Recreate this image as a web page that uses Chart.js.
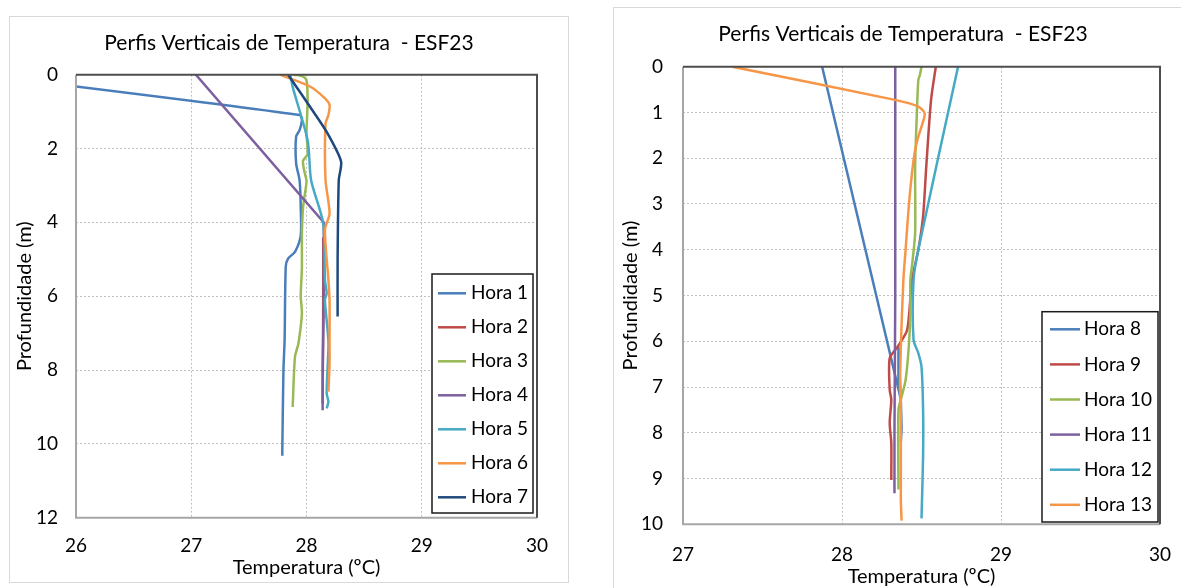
<!DOCTYPE html>
<html lang="pt">
<head>
<meta charset="UTF-8">
<title>Perfis Verticais de Temperatura - ESF23</title>
<script src="https://cdn.jsdelivr.net/npm/chart.js@4/dist/chart.umd.min.js"></script>
<style>
  body { margin: 0; background: #fff; width: 1181px; height: 588px; overflow: hidden; position: relative; }
  .frame { position: absolute; border: 1px solid #d9d9d9; box-sizing: border-box; }
  canvas { position: absolute; }
</style>
</head>
<body>
<div class="frame" style="left:9px; top:16px; width:560px; height:567px;"></div>
<canvas id="chartA" width="560" height="566" style="left:9px; top:16px;"></canvas>
<div class="frame" style="left:613px; top:7px; width:580px; height:600px;"></div>
<canvas id="chartB" width="580" height="590" style="left:613px; top:7px;"></canvas>
<script>
// --- dados: temperatura (ºC) e profundidade (m) por hora ---
const titulo = 'Perfis Verticais de Temperatura  - ESF23';
const eixoX = 'Temperatura (ºC)';
const eixoY = 'Profundidade (m)';

const hora1T = [25.18, 27.94, 27.96, 27.94, 27.91, 27.91, 27.94, 27.95, 27.95, 27.90, 27.84, 27.82, 27.81, 27.80, 27.79, 27.79];
const hora1D = [0, 1.09, 1.23, 1.5, 1.68, 2.4, 2.86, 3.58, 4.35, 4.8, 4.98, 5.2, 7.19, 8.0, 10.2, 10.32];
const hora2T = [28.145, 28.145, 28.14];
const hora2D = [4.4, 6.2, 8.9];
const hora3T = [27.89, 27.97, 28.0, 28.01, 28.0, 28.01, 27.97, 27.98, 28.0, 27.99, 27.97, 27.96, 27.96, 27.95, 27.96, 27.93, 27.9, 27.88];
const hora3D = [0, 0.05, 0.15, 0.7, 1.6, 2.15, 2.33, 2.6, 2.87, 3.15, 3.6, 4.33, 5.24, 6.0, 6.47, 7.28, 7.64, 9.0];
const hora4T = [27.04, 28.15, 28.15, 28.14, 28.14];
const hora4D = [0, 4.0, 6.2, 8.0, 9.09];
const hora5T = [27.86, 27.88, 28.01, 28.04, 28.145, 28.16, 28.175, 28.16, 28.175, 28.19, 28.19, 28.175, 28.19, 28.175];
const hora5D = [0, 0.33, 1.78, 2.86, 4.03, 5.56, 5.92, 6.1, 6.65, 7.19, 7.46, 8.63, 8.86, 9.04];
const hora6T = [27.77, 28.03, 28.16, 28.2, 28.19, 28.165, 28.165, 28.2, 28.16, 28.19, 28.2, 28.2, 28.2, 28.19];
const hora6D = [0, 0.32, 0.64, 0.82, 1.09, 1.32, 2.85, 3.76, 4.2, 5.56, 6.1, 7.19, 7.82, 8.59];
const hora7T = [27.84, 28.07, 28.19, 28.30, 28.28, 28.27, 28.27];
const hora7D = [0, 1.05, 1.63, 2.35, 2.86, 5.0, 6.55];

const hora8T = [27.875, 28.355, 28.355, 28.37, 28.375, 28.37];
const hora8D = [0, 7.05, 6.12, 7.3, 7.9, 8.2];
const hora9T = [28.59, 28.56, 28.53, 28.51, 28.48, 28.44, 28.41, 28.35, 28.30, 28.30, 28.31, 28.30, 28.31, 28.31];
const hora9D = [0, 0.73, 2.18, 3.27, 4.0, 4.66, 5.75, 6.12, 6.37, 7.06, 7.28, 7.79, 8.22, 9.03];
const hora10T = [28.5, 28.49, 28.48, 28.47, 28.46, 28.46, 28.44, 28.43, 28.43, 28.42, 28.40, 28.375, 28.355, 28.355];
const hora10D = [0, 0.18, 0.29, 1.09, 2.18, 3.63, 4.36, 4.66, 5.38, 6.12, 6.85, 7.21, 7.5, 9.24];
const hora11T = [28.335, 28.335, 28.33, 28.33];
const hora11D = [0, 5, 8, 9.32];
const hora12T = [28.73, 28.48, 28.45, 28.45, 28.48, 28.50, 28.51, 28.51, 28.50];
const hora12D = [0, 4.0, 4.66, 5.97, 6.26, 6.56, 7.5, 8.5, 9.87];
const hora13T = [27.31, 28.34, 28.48, 28.52, 28.50, 28.48, 28.46, 28.44, 28.42, 28.40, 28.386, 28.37, 28.365, 28.37, 28.37, 28.375];
const hora13D = [0, 0.73, 0.87, 1.02, 1.31, 1.53, 1.82, 2.33, 3.05, 4.0, 4.66, 6.12, 7.06, 7.28, 9.47, 9.92];

const cores = ['#4a7ebb', '#be4b48', '#98b954', '#7d60a0', '#46aac5', '#f79646', '#1f497d'];
const FONTE = 'Lato, "Open Sans", sans-serif';

function serie(nome, T, D, cor, i, tensao) {
  return {
    label: nome,
    data: T.map((t, k) => ({ x: t, y: D[k] })),
    borderColor: cor,
    backgroundColor: cor,
    borderWidth: 2.5,
    pointRadius: 0,
    showLine: true,
    tension: tensao,
    order: -i  // séries seguintes por cima, como no Excel
  };
}

// legenda em caixa dentro da área do gráfico
const legendaCaixa = {
  id: 'legendaCaixa',
  afterDraw(chart, args, o) {
    const ctx = chart.ctx;
    ctx.save();
    ctx.fillStyle = '#fff';
    ctx.fillRect(o.x, o.y, o.w, o.h);
    ctx.strokeStyle = '#1a1a1a';
    ctx.lineWidth = 1.5;
    ctx.strokeRect(o.x, o.y, o.w, o.h);
    ctx.font = '19px ' + FONTE;
    ctx.textBaseline = 'middle';
    ctx.textAlign = 'left';
    chart.data.datasets.forEach((ds, i) => {
      const y = o.y0 + i * o.passo;
      ctx.strokeStyle = ds.borderColor;
      ctx.lineWidth = 2.5;
      ctx.beginPath();
      ctx.moveTo(o.l1, y);
      ctx.lineTo(o.l2, y);
      ctx.stroke();
      ctx.fillStyle = '#000';
      ctx.fillText(ds.label, o.tx, y);
    });
    ctx.restore();
  }
};

// contorno da área de plotagem
const contorno = {
  id: 'contorno',
  afterDatasetsDraw(chart) {
    const { ctx, chartArea: a } = chart;
    ctx.save();
    ctx.lineWidth = 2;
    ctx.strokeStyle = '#a6a6a6';
    ctx.beginPath();
    ctx.moveTo(a.left, a.top); ctx.lineTo(a.left, a.bottom); ctx.lineTo(a.right, a.bottom);
    ctx.stroke();
    ctx.strokeStyle = '#4d4d4d';
    ctx.beginPath();
    ctx.moveTo(a.left, a.top); ctx.lineTo(a.right, a.top); ctx.lineTo(a.right, a.bottom);
    ctx.stroke();
    ctx.restore();
  }
};

function grafico(id, datasets, c) {
  return new Chart(document.getElementById(id), {
    type: 'scatter',
    data: { datasets },
    plugins: [contorno, legendaCaixa],
    options: {
      responsive: false,
      animation: false,
      layout: { padding: 0 },
      plugins: {
        legend: { display: false },
        tooltip: { enabled: false },
        title: {
          display: true, text: titulo, color: '#000',
          font: { family: FONTE, size: 21, weight: 'normal', lineHeight: 1.2 },
          padding: { top: 14.4, bottom: c.titleBottom }
        },
        legendaCaixa: c.legenda
      },
      scales: {
        x: {
          type: 'linear', position: 'bottom', min: c.xMin, max: c.xMax,
          ticks: { stepSize: 1, padding: c.xTickPad, color: '#000', font: { family: FONTE, size: 19 } },
          grid: { color: '#bfbfbf', lineWidth: 1, drawTicks: false },
          border: { display: false, dash: [2, 2] },
          title: { display: true, text: eixoX, color: '#000', font: { family: FONTE, size: 20, lineHeight: 1.2 }, padding: { top: 0, bottom: c.xTitlePad } },
          afterFit(s) { s.height = c.xHeight; }
        },
        y: {
          type: 'linear', reverse: true, min: 0, max: c.yMax,
          ticks: { stepSize: c.yStep, padding: c.yTickPad, color: '#000', font: { family: FONTE, size: 19 } },
          grid: { color: '#bfbfbf', lineWidth: 1, drawTicks: false },
          border: { display: false, dash: [2, 2] },
          title: { display: true, text: eixoY, color: '#000', font: { family: FONTE, size: 20, lineHeight: 1.2 }, padding: { top: c.yTitlePad, bottom: 0 } },
          afterFit(s) { s.width = c.yWidth; }
        },
        // margem direita vazia (centra o título como no original)
        margem: {
          type: 'linear', position: 'right', display: true,
          ticks: { display: false }, grid: { display: false }, border: { display: false },
          afterFit(s) { s.width = c.rightGap; }
        }
      }
    }
  });
}

grafico('chartA', [
  serie('Hora 1', hora1T, hora1D, cores[0], 0, 0.25),
  serie('Hora 2', hora2T, hora2D, cores[1], 1, 0.25),
  serie('Hora 3', hora3T, hora3D, cores[2], 2, 0.25),
  serie('Hora 4', hora4T, hora4D, cores[3], 3, 0),
  serie('Hora 5', hora5T, hora5D, cores[4], 4, 0.25),
  serie('Hora 6', hora6T, hora6D, cores[5], 5, 0.25),
  serie('Hora 7', hora7T, hora7D, cores[6], 6, 0.25)
], {
  rightGap: 32, titleBottom: 19.1, xMin: 26, xMax: 30, yMax: 12, yStep: 2,
  xTickPad: 17, xTitlePad: 2, xHeight: 64.3, yTickPad: 18, yTitlePad: 4, yWidth: 67,
  legenda: { x: 423, y: 258, w: 101, h: 239, y0: 277.3, passo: 34, l1: 429, l2: 457, tx: 462 }
});

grafico('chartB', [
  serie('Hora 8', hora8T, hora8D, cores[0], 0, 0),
  serie('Hora 9', hora9T, hora9D, cores[1], 1, 0.25),
  serie('Hora 10', hora10T, hora10D, cores[2], 2, 0.25),
  serie('Hora 11', hora11T, hora11D, cores[3], 3, 0),
  serie('Hora 12', hora12T, hora12D, cores[4], 4, 0.25),
  serie('Hora 13', hora13T, hora13D, cores[5], 5, 0.25)
], {
  rightGap: 33, titleBottom: 20.1, xMin: 27, xMax: 30, yMax: 10, yStep: 1,
  xTickPad: 19.3, xTitlePad: 8, xHeight: 72.7, yTickPad: 20, yTitlePad: 5.7, yWidth: 70,
  legenda: { x: 429, y: 304.7, w: 116, h: 210.3, y0: 322.3, passo: 35.1, l1: 437, l2: 467, tx: 471 }
});
</script>
</body>
</html>
